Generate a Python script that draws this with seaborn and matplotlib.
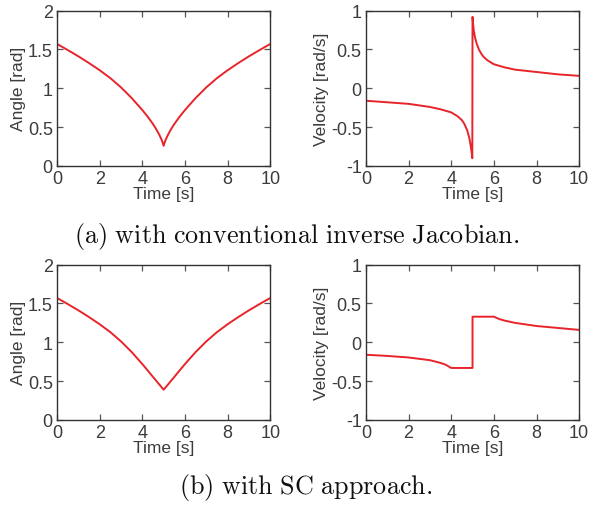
import matplotlib
matplotlib.use('Agg')
import matplotlib.pyplot as plt
import seaborn as sns

# (a) conventional inverse Jacobian
time_a_angle = [0, 0.5, 1, 1.5, 2, 2.5, 3, 3.5, 4, 4.25, 4.5, 4.65, 4.8, 4.9, 4.95, 5,
                5.05, 5.1, 5.2, 5.35, 5.5, 5.75, 6, 6.5, 7, 7.5, 8, 8.5, 9, 9.5, 10]
angle_a = [1.571, 1.493, 1.412, 1.325, 1.233, 1.131, 1.012, 0.875, 0.72, 0.635, 0.54, 0.475, 0.40, 0.34, 0.305, 0.26,
           0.305, 0.34, 0.40, 0.475, 0.54, 0.635, 0.72, 0.875, 1.012, 1.131, 1.233, 1.325, 1.412, 1.493, 1.571]

time_a_vel = [0, 1, 2, 3, 3.5, 4, 4.3, 4.5, 4.6, 4.75, 4.85, 4.92, 4.97, 4.99,
              5.0, 5.02, 5.06, 5.12, 5.2, 5.3, 5.4, 5.5, 5.7, 6, 6.5, 7, 8, 9, 10]
velocity_a = [-0.16, -0.18, -0.20, -0.24, -0.27, -0.31, -0.36, -0.41, -0.45, -0.54, -0.64, -0.75, -0.85, -0.90,
              0.92, 0.85, 0.74, 0.65, 0.57, 0.50, 0.45, 0.41, 0.36, 0.31, 0.27, 0.24, 0.21, 0.18, 0.16]

# (b) SC approach
time_b_angle = [0, 0.5, 1, 1.5, 2, 2.5, 3, 3.5, 4, 5, 6, 6.5, 7, 7.5, 8, 8.5, 9, 9.5, 10]
angle_b = [1.571, 1.493, 1.412, 1.325, 1.233, 1.131, 1.012, 0.875, 0.72, 0.39,
           0.72, 0.875, 1.012, 1.131, 1.233, 1.325, 1.412, 1.493, 1.571]

time_b_vel = [0, 1, 2, 3, 3.5, 3.75, 4, 5, 5, 6, 6.25, 6.5, 7, 8, 9, 10]
velocity_b = [-0.16, -0.175, -0.195, -0.23, -0.265, -0.29, -0.33, -0.33,
              0.33, 0.33, 0.30, 0.28, 0.25, 0.21, 0.185, 0.16]

captions = ['(a) with conventional inverse Jacobian.', '(b) with SC approach.']

sns.set_style('ticks')
plt.rcParams['font.family'] = ['Liberation Sans', 'DejaVu Sans']
plt.rcParams['mathtext.fontset'] = 'cm'

RED = '#e8232a'
TXT = '#3c3c3c'

fig = plt.figure(figsize=(5.94, 5.06), dpi=100)

def style_axes(ax, ylim, yticks, yticklabels, ylabel):
    ax.set_xlim(0, 10)
    ax.set_ylim(*ylim)
    ax.set_xticks([0, 2, 4, 6, 8, 10])
    ax.set_xticklabels(['0', '2', '4', '6', '8', '10'])
    ax.set_yticks(yticks)
    ax.set_yticklabels(yticklabels)
    ax.tick_params(direction='in', top=True, right=True, length=4, width=0.9,
                   colors='#555555', labelcolor=TXT, labelsize=13, pad=3)
    for s in ax.spines.values():
        s.set_color('#333333')
        s.set_linewidth(1.0)
    ax.set_xlabel('Time [s]', fontsize=12.5, color=TXT, labelpad=-1)
    ax.set_ylabel(ylabel, fontsize=12.5, color=TXT, labelpad=1)

rows = [
    (0.670, time_a_angle, angle_a, time_a_vel, velocity_a),
    (0.168, time_b_angle, angle_b, time_b_vel, velocity_b),
]
for bottom, ta, ya, tv, yv in rows:
    ax1 = fig.add_axes([0.096, bottom, 0.359, 0.307])
    sns.lineplot(x=ta, y=ya, ax=ax1, color=RED, lw=1.4, estimator=None, sort=False)
    style_axes(ax1, (0, 2), [0, 0.5, 1, 1.5, 2], ['0', '0.5', '1', '1.5', '2'], 'Angle [rad]')

    ax2 = fig.add_axes([0.616, bottom, 0.359, 0.307])
    sns.lineplot(x=tv, y=yv, ax=ax2, color=RED, lw=1.4, estimator=None, sort=False)
    style_axes(ax2, (-1, 1), [-1, -0.5, 0, 0.5, 1], ['-1', '-0.5', '0', '0.5', '1'], 'Velocity [rad/s]')

def mtext(s):
    return '$\\mathrm{' + s.replace(' ', '\\ ') + '}$'

fig.text(0.500, 0.532, mtext(captions[0]), ha='center', va='center', fontsize=18.8, color='#111111')
fig.text(0.515, 0.036, mtext(captions[1]), ha='center', va='center', fontsize=18.8, color='#111111')

fig.savefig('out.png', dpi=100)
